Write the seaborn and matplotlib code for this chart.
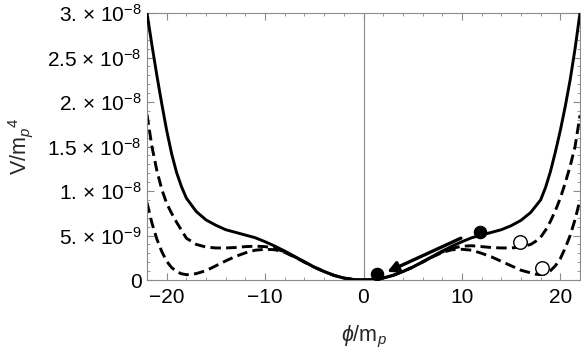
import matplotlib
matplotlib.use("Agg")
import matplotlib.pyplot as plt
import numpy as np
import pandas as pd
import seaborn as sns

# ─── Data (V in units of 1e-9 m_p^4) ────────────────────────────────────────
x_solid = [-22, -21.5, -21, -20.5, -20, -19.5, -19, -18.5, -18, -17, -16, -15, -14, -13, -12, -11,
           -10, -9, -8, -7, -6, -5, -4, -3, -2, -1, 0,
           1, 2, 3, 4, 5, 6, 7, 8, 9, 10, 11, 12, 13, 14, 15, 16, 17, 18, 18.5, 19, 19.5,
           20, 20.5, 21, 21.5, 22]
v_solid = [30.0, 26.4, 23.0, 19.8, 16.8, 14.2, 12.1, 10.5, 9.2, 7.7, 6.75, 6.15, 5.65, 5.35, 5.05, 4.75,
           4.3, 3.8, 3.25, 2.65, 2.05, 1.45, 0.95, 0.52, 0.22, 0.05, 0.0,
           0.05, 0.22, 0.52, 0.95, 1.45, 2.05, 2.65, 3.25, 3.8, 4.3, 4.75, 5.05, 5.35, 5.65, 6.1, 6.7,
           7.6, 9.0, 10.4, 12.2, 14.4, 16.8, 19.5, 22.5, 26.0, 30.0]

x_mid = [-22, -21.5, -21, -20.5, -20, -19.5, -19, -18.5, -18, -17, -16, -15, -14, -13, -12, -11,
         -10, -9, -8, -7, -6, -5, -4, -3, -2, -1, 0,
         1, 2, 3, 4, 5, 6, 7, 8, 9, 10, 11, 12, 13, 14, 15, 16, 17, 17.5, 18, 18.5, 19, 19.5,
         20, 20.5, 21, 21.5, 22]
v_mid = [18.6, 15.0, 12.3, 10.2, 8.6, 7.5, 6.5, 5.6, 4.7, 4.0, 3.7, 3.6, 3.6, 3.65, 3.75, 3.8,
         3.75, 3.55, 3.15, 2.6, 2.02, 1.45, 0.95, 0.52, 0.22, 0.05, 0.0,
         0.05, 0.22, 0.52, 0.95, 1.45, 2.02, 2.6, 3.15, 3.55, 3.8, 3.85, 3.75, 3.65, 3.6, 3.6, 3.7,
         4.0, 4.35, 4.8, 5.6, 6.6, 7.8, 9.2, 10.9, 12.8, 15.0, 18.5]

x_low = [-22, -21.5, -21, -20.5, -20, -19.5, -19, -18.5, -18, -17.5, -17, -16, -15, -14, -13, -12,
         -11, -10, -9, -8, -7, -6, -5, -4, -3, -2, -1, 0,
         1, 2, 3, 4, 5, 6, 7, 8, 9, 10, 11, 12, 13, 14, 15, 16, 17, 17.5, 18, 18.5, 19, 19.5,
         20, 20.5, 21, 21.5, 22]
v_low = [8.7, 6.4, 4.6, 3.2, 2.1, 1.4, 0.95, 0.7, 0.6, 0.62, 0.72, 1.05, 1.6, 2.15, 2.65, 3.05,
         3.35, 3.45, 3.4, 3.1, 2.58, 2.0, 1.44, 0.95, 0.52, 0.22, 0.05, 0.0,
         0.05, 0.22, 0.52, 0.95, 1.44, 2.0, 2.58, 3.1, 3.4, 3.45, 3.35, 3.0, 2.6, 2.1, 1.6, 1.1,
         0.8, 0.65, 0.6, 0.72, 1.05, 1.6, 2.4, 3.6, 5.0, 6.8, 9.0]

filled_x = [1.4, 11.8]
filled_v = [0.7, 5.4]
open_x = [15.9, 18.1]
open_v = [4.3, 1.3]
arrow_from = (9.9, 4.7)
arrow_to = (2.4, 0.9)

ytick_vals = [0, 5, 10, 15, 20, 25, 30]
ytick_labels = ["0", "5. × 10$^{-9}$", "1. × 10$^{-8}$", "1.5 × 10$^{-8}$",
                "2. × 10$^{-8}$", "2.5 × 10$^{-8}$", "3. × 10$^{-8}$"]
xtick_vals = [-20, -10, 0, 10, 20]

SCALE = 1e-9

# ─── Style ──────────────────────────────────────────────────────────────────
sns.set_theme(style="ticks")
plt.rcParams["font.family"] = ["Liberation Sans", "DejaVu Sans"]
plt.rcParams["mathtext.fontset"] = "custom"
plt.rcParams["mathtext.rm"] = "Liberation Sans"
plt.rcParams["mathtext.it"] = "Liberation Sans:italic"
FRAME = "#8a8a8a"

fig = plt.figure(figsize=(5.81, 3.55), dpi=100)
ax = fig.add_axes([147 / 581, 1 - 280 / 355, (580 - 147) / 581, (280 - 13) / 355])

ax.axvline(0, color=FRAME, lw=0.8, zorder=1)

dash = (0, (3.6, 1.8))
sns.lineplot(x=x_low, y=np.array(v_low) * SCALE, ax=ax, color="black", lw=2.1,
             linestyle=dash, sort=False, estimator=None, zorder=2)
sns.lineplot(x=x_mid, y=np.array(v_mid) * SCALE, ax=ax, color="black", lw=2.1,
             linestyle=dash, sort=False, estimator=None, zorder=2)
sns.lineplot(x=x_solid, y=np.array(v_solid) * SCALE, ax=ax, color="black", lw=2.1,
             sort=False, estimator=None, zorder=3)

sns.scatterplot(x=filled_x, y=np.array(filled_v) * SCALE, ax=ax, color="black",
                s=80, edgecolor="black", linewidth=0.8, zorder=5)
sns.scatterplot(x=open_x, y=np.array(open_v) * SCALE, ax=ax, color="white",
                s=95, edgecolor="black", linewidth=1.0, zorder=5)

ax.annotate("", xy=(arrow_to[0], arrow_to[1] * SCALE),
            xytext=(arrow_from[0], arrow_from[1] * SCALE),
            arrowprops=dict(arrowstyle="-|>", color="black", lw=2.4,
                            mutation_scale=16, shrinkA=0, shrinkB=0),
            zorder=6)

ax.set_xlim(-22, 22)
ax.set_ylim(0, 30 * SCALE)
ax.set_xticks(xtick_vals)
ax.set_xticks(np.arange(-22, 23, 2), minor=True)
ax.set_yticks([v * SCALE for v in ytick_vals])
ax.set_yticklabels(ytick_labels)
ax.set_yticks(np.arange(0, 31) * SCALE, minor=True)

for side in ["top", "right", "bottom", "left"]:
    ax.spines[side].set_visible(True)
    ax.spines[side].set_color(FRAME)
    ax.spines[side].set_linewidth(0.8)

ax.tick_params(which="both", direction="in", top=True, right=True, color=FRAME,
               labelsize=15, labelcolor="black")
ax.tick_params(which="major", length=5, width=0.8)
ax.tick_params(which="minor", length=2.5, width=0.6)
ax.tick_params(axis="x", pad=6)
ax.tick_params(axis="y", pad=4)

ax.set_xlabel(r"$\phi$/m$_p$", fontsize=15.5, labelpad=12)
ax.set_ylabel(r"V/m$_p$$^4$", fontsize=15.5, labelpad=9)

fig.savefig("out.png", dpi=100)
